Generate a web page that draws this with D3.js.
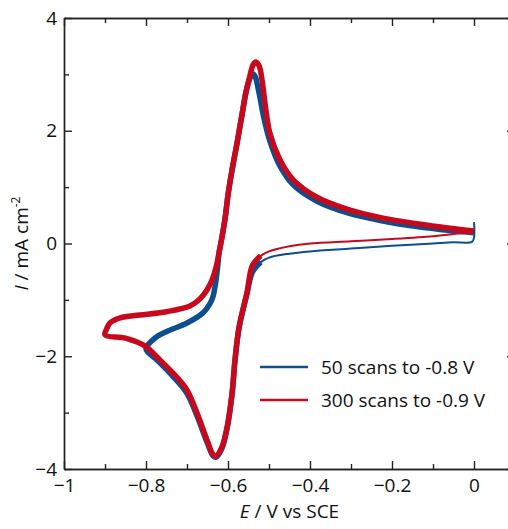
<!DOCTYPE html>
<html lang="en">
<head>
  <meta charset="utf-8">
  <title>CV</title>
  <script src="https://d3js.org/d3.v7.min.js"></script>
  <style>
    body { margin: 0; background: white; }
    .axis text { font: 19px "Open Sans", sans-serif; fill: #111; }
    .axis path, .axis line { stroke: #222; stroke-width: 1.4px; }
    .label { font: 19px "Open Sans", sans-serif; fill: #111; }
  </style>
</head>
<body>
<svg id="chart" width="508" height="529"></svg>
<script>
// tick values
var xMajor = [-1, -0.8, -0.6, -0.4, -0.2, 0];
var xMinor = [-0.9, -0.7, -0.5, -0.3, -0.1, 0.1];
var yMajor = [-4, -2, 0, 2, 4];
var yMinor = [-3, -1, 1, 3];

// 50 scans to -0.8 V : cathodic sweep (0 -> -0.8) then anodic sweep (-0.8 -> 0)
var blueCatE = [0, 0, -0.005, -0.05, -0.1, -0.2, -0.3, -0.4, -0.45, -0.5, -0.52, -0.54, -0.554, -0.573, -0.583, -0.59, -0.602, -0.615, -0.629, -0.636, -0.651, -0.676, -0.70, -0.734, -0.774, -0.80];
var blueCatI = [0.38, 0.1, 0.03, 0.02, 0.0, -0.04, -0.09, -0.14, -0.18, -0.25, -0.33, -0.5, -0.9, -1.5, -2.08, -2.66, -3.27, -3.64, -3.79, -3.77, -3.53, -3.05, -2.66, -2.36, -2.06, -1.87];
var blueAnoE = [-0.80, -0.775, -0.749, -0.70, -0.661, -0.645, -0.637, -0.631, -0.627, -0.624, -0.622, -0.615, -0.607, -0.600, -0.590, -0.578, -0.566, -0.556, -0.547, -0.540, -0.534, -0.528, -0.521, -0.514, -0.498, -0.473, -0.441, -0.383, -0.302, -0.222, -0.139, -0.059, 0];
var blueAnoI = [-1.84, -1.66, -1.56, -1.41, -1.23, -1.08, -0.95, -0.74, -0.52, -0.33, -0.17, 0.10, 0.45, 0.86, 1.31, 1.78, 2.28, 2.69, 2.92, 3.01, 2.97, 2.8, 2.55, 2.28, 1.82, 1.37, 1.04, 0.75, 0.53, 0.4, 0.3, 0.23, 0.19];

// 300 scans to -0.9 V
var redCatE = [0, -0.05, -0.1, -0.2, -0.3, -0.4, -0.45, -0.5, -0.52, -0.54, -0.554, -0.573, -0.583, -0.59, -0.602, -0.615, -0.629, -0.636, -0.651, -0.676, -0.70, -0.734, -0.774, -0.80, -0.85, -0.9];
var redCatI = [0.2, 0.17, 0.13, 0.08, 0.04, 0.0, -0.05, -0.14, -0.22, -0.38, -0.88, -1.48, -2.07, -2.65, -3.25, -3.61, -3.77, -3.75, -3.49, -3.0, -2.6, -2.3, -2.01, -1.83, -1.68, -1.62];
var redAnoE = [-0.9, -0.895, -0.888, -0.863, -0.815, -0.75, -0.693, -0.668, -0.651, -0.639, -0.629, -0.622, -0.615, -0.607, -0.600, -0.590, -0.578, -0.566, -0.556, -0.546, -0.539, -0.532, -0.524, -0.517, -0.510, -0.498, -0.473, -0.441, -0.383, -0.302, -0.222, -0.139, -0.059, 0];
var redAnoI = [-1.62, -1.5, -1.41, -1.32, -1.27, -1.21, -1.11, -0.98, -0.82, -0.65, -0.42, -0.17, 0.10, 0.45, 0.86, 1.31, 1.78, 2.28, 2.69, 2.99, 3.17, 3.22, 3.15, 2.90, 2.50, 1.96, 1.48, 1.13, 0.82, 0.59, 0.45, 0.35, 0.27, 0.22];

var seriesNames = ["50 scans to -0.8 V", "300 scans to -0.9 V"];
var seriesColors = ["#0d4f8e", "#c8091d"];

var margin = {top: 18, left: 64};
var width = 451, height = 451;

var x = d3.scaleLinear().domain([-1, 0.1]).range([0, width]);
var y = d3.scaleLinear().domain([-4, 4]).range([height, 0]);

var svg = d3.select('#chart');
var g = svg.append('g').attr('transform', 'translate(' + margin.left + ',' + margin.top + ')');

var fmt = d3.format('~g');

// axes, ticks pointing inwards
g.append('g').attr('class', 'axis').attr('transform', 'translate(0,' + height + ')')
  .call(d3.axisBottom(x).tickValues(xMajor).tickSize(-8).tickSizeOuter(0).tickPadding(10).tickFormat(fmt));
g.append('g').attr('class', 'axis').attr('transform', 'translate(0,' + height + ')')
  .call(d3.axisBottom(x).tickValues(xMinor).tickSize(-5).tickSizeOuter(0).tickFormat(''));
g.append('g').attr('class', 'axis')
  .call(d3.axisTop(x).tickValues(xMajor).tickSize(-8).tickSizeOuter(0).tickFormat(''));
g.append('g').attr('class', 'axis')
  .call(d3.axisTop(x).tickValues(xMinor).tickSize(-5).tickSizeOuter(0).tickFormat(''));

g.append('g').attr('class', 'axis')
  .call(d3.axisLeft(y).tickValues(yMajor).tickSize(-8).tickSizeOuter(0).tickPadding(7).tickFormat(fmt));
g.append('g').attr('class', 'axis')
  .call(d3.axisLeft(y).tickValues(yMinor).tickSize(-5).tickSizeOuter(0).tickFormat(''));
g.append('g').attr('class', 'axis').attr('transform', 'translate(' + width + ',0)')
  .call(d3.axisRight(y).tickValues(yMajor).tickSize(-8).tickSizeOuter(0).tickFormat(''));
g.append('g').attr('class', 'axis').attr('transform', 'translate(' + width + ',0)')
  .call(d3.axisRight(y).tickValues(yMinor).tickSize(-5).tickSizeOuter(0).tickFormat(''));

// curves
var line = d3.line()
  .x(function(d) { return x(d[0]); })
  .y(function(d) { return y(d[1]); })
  .curve(d3.curveCatmullRom.alpha(0.5));

function zip(a, b) { return a.map(function(v, i) { return [v, b[i]]; }); }

function drawCV(catE, catI, anoE, anoI, color) {
  var cat = zip(catE, catI), ano = zip(anoE, anoI);
  // thin part: start of the cathodic sweep, where all scans overlap
  var thin = cat.filter(function(d) { return d[0] >= -0.554; });
  var thick = cat.filter(function(d) { return d[0] <= -0.52; }).concat(ano.slice(1));
  g.append('path').datum(thick).attr('d', line)
    .attr('fill', 'none').attr('stroke', color).attr('stroke-width', 5.5)
    .attr('stroke-linejoin', 'round').attr('stroke-linecap', 'butt');
  g.append('path').datum(thin).attr('d', line)
    .attr('fill', 'none').attr('stroke', color).attr('stroke-width', 2)
    .attr('stroke-linejoin', 'round');
}

drawCV(blueCatE, blueCatI, blueAnoE, blueAnoI, seriesColors[0]);
drawCV(redCatE, redCatI, redAnoE, redAnoI, seriesColors[1]);

// legend
var legend = svg.append('g').attr('transform', 'translate(260,367)');
seriesNames.forEach(function(name, i) {
  legend.append('line')
    .attr('x1', 0).attr('x2', 48).attr('y1', i * 33).attr('y2', i * 33)
    .attr('stroke', seriesColors[i]).attr('stroke-width', 2.5);
  legend.append('text').attr('class', 'label')
    .attr('x', 61).attr('y', i * 33 + 7).text(name);
});

// axis titles
var xt = svg.append('text').attr('class', 'label')
  .attr('x', margin.left + width / 2).attr('y', 518).attr('text-anchor', 'middle');
xt.append('tspan').attr('font-style', 'italic').text('E');
xt.append('tspan').text(' / V vs SCE');

var yt = svg.append('text').attr('class', 'label')
  .attr('transform', 'translate(28,' + (margin.top + height / 2) + ') rotate(-90)')
  .attr('text-anchor', 'middle');
yt.append('tspan').attr('font-style', 'italic').text('I');
yt.append('tspan').text(' / mA cm');
yt.append('tspan').attr('font-size', '12px').attr('dy', '-8').text('-2');
</script>
</body>
</html>
